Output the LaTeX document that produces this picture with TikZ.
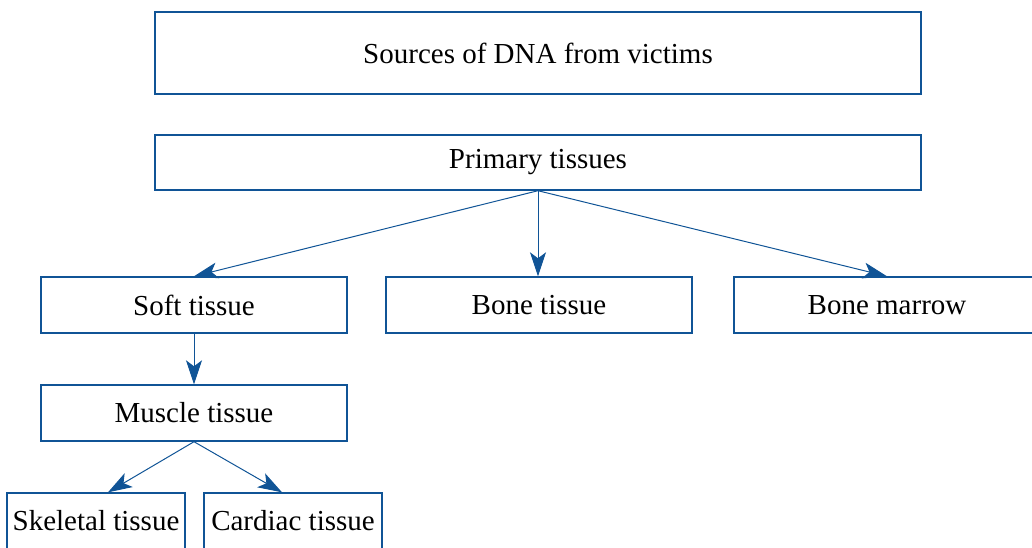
\documentclass[tikz,border=0pt]{standalone}
\usepackage{fontspec}
\setmainfont{Liberation Serif}
\usepackage{xcolor}
\usepackage{tikz}
\usetikzlibrary{arrows.meta}

\definecolor{boxblue}{RGB}{16,84,150}

\tikzset{
  tissue/.style={draw=boxblue,line width=1.4pt,minimum width=306pt,minimum height=56pt,
                 inner sep=2pt,font=\fontsize{29}{34}\selectfont},
  leaf/.style={tissue,minimum width=178pt},
  link/.style={draw=boxblue,line width=1pt,-{Stealth[length=24pt,width=16pt,inset=6pt]}}
}

\begin{document}
\begin{tikzpicture}[x=1pt,y=-1pt]
\useasboundingbox (0,0) rectangle (1032,547);

    \node[tissue,minimum width=766pt,minimum height=82pt] (src) at (538,53) {Sources of DNA from victims};
    \node[tissue,minimum width=766pt,minimum height=55pt] (prim) at (538,162.5) {Primary tissues};

    \node[tissue] (soft) at (194,305) {Soft tissue};
    \node[tissue] (bone) at (539,305) {Bone tissue};
    \node[tissue] (marrow) at (887,305) {Bone marrow};

    \node[tissue] (muscle) at (194,413) {Muscle tissue};

    \node[leaf] (skel) at (96,521) {Skeletal tissue};
    \node[leaf] (card) at (293,521) {Cardiac tissue};

    \draw[link] (prim.south) -- (soft.north);
    \draw[link] (prim.south) -- (bone.north -| prim.south);
    \draw[link] (prim.south) -- (marrow.north);
    \draw[link] (soft.south) -- (muscle.north);
    \draw[link] (muscle.south) -- ([xshift=12pt]skel.north);
    \draw[link] (muscle.south) -- ([xshift=-11pt]card.north);

\end{tikzpicture}
\end{document}
